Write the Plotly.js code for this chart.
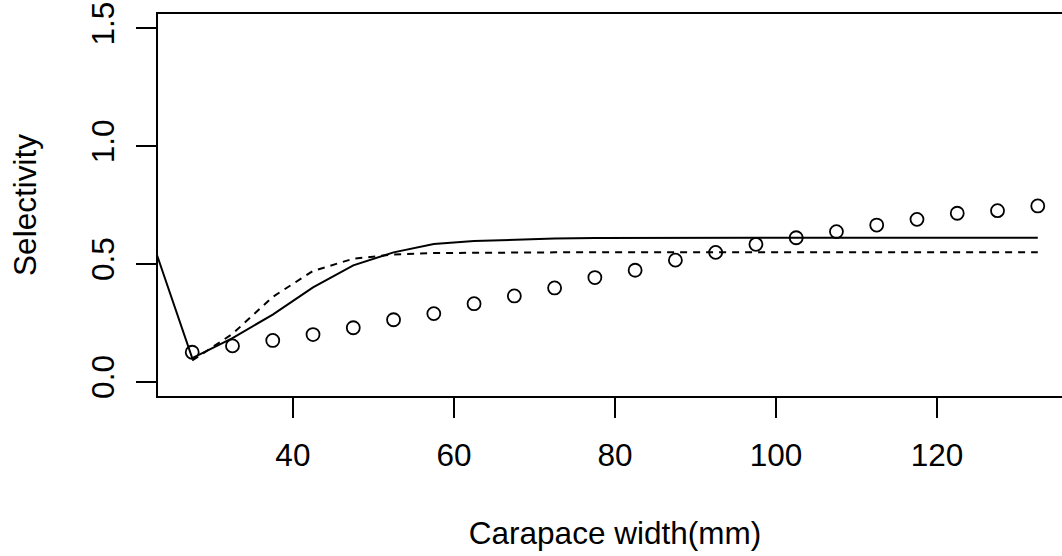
<!DOCTYPE html>
<html>
<head>
<meta charset="utf-8">
<script src="https://cdn.plot.ly/plotly-3.0.1.min.js"></script>
<style>
html,body{margin:0;padding:0;overflow:hidden;background:#fff;}
#chart{width:1072px;height:556px;}
</style>
</head>
<body>
<div id="chart"></div>
<script>
// Carapace width classes (mm)
var widthObs = [27.5, 32.5, 37.5, 42.5, 47.5, 52.5, 57.5, 62.5, 67.5, 72.5, 77.5,
                82.5, 87.5, 92.5, 97.5, 102.5, 107.5, 112.5, 117.5, 122.5, 127.5, 132.5];
// Observed selectivity (circles)
var selObs = [0.125, 0.152, 0.175, 0.200, 0.229, 0.263, 0.289, 0.331, 0.364, 0.398, 0.442,
              0.473, 0.516, 0.549, 0.583, 0.611, 0.637, 0.665, 0.689, 0.715, 0.726, 0.746];

// Solid line (model 1)
var widthSolid = [22.5, 27.5, 32.5, 37.5, 42.5, 47.5, 52.5, 57.5, 62.5, 67.5, 72.5, 77.5,
                  82.5, 87.5, 92.5, 97.5, 102.5, 107.5, 112.5, 117.5, 122.5, 127.5, 132.5];
var selSolid = [0.60, 0.100, 0.185, 0.285, 0.400, 0.494, 0.549, 0.584, 0.597, 0.603, 0.608, 0.610,
                0.611, 0.611, 0.611, 0.611, 0.611, 0.611, 0.611, 0.611, 0.611, 0.611, 0.611];

// Dashed line (model 2)
var widthDash = [27.5, 32.5, 37.5, 42.5, 47.5, 52.5, 57.5, 62.5, 67.5, 72.5, 77.5,
                 82.5, 87.5, 92.5, 97.5, 102.5, 107.5, 112.5, 117.5, 122.5, 127.5, 132.5];
var selDash = [0.090, 0.203, 0.360, 0.470, 0.522, 0.540, 0.546, 0.548, 0.549, 0.549, 0.549,
               0.549, 0.549, 0.549, 0.549, 0.549, 0.549, 0.549, 0.549, 0.549, 0.549, 0.549];

var xTicks = [40, 60, 80, 100, 120];
var yTicks = [0.0, 0.5, 1.0, 1.5];
var yTickText = ['0.0', '0.5', '1.0', '1.5'];

var FONT = 'Liberation Sans, Arial, Helvetica, sans-serif';
var FS = 31.5;

var traces = [
  {x: widthSolid, y: selSolid, mode: 'lines', type: 'scatter',
   line: {color: '#000', width: 2}, hoverinfo: 'skip'},
  {x: widthDash, y: selDash, mode: 'lines', type: 'scatter',
   line: {color: '#000', width: 2, dash: '7px,6px'}, hoverinfo: 'skip'},
  {x: widthObs, y: selObs, mode: 'markers', type: 'scatter',
   marker: {symbol: 'circle-open', size: 13, color: '#000', line: {width: 1.8, color: '#000'}},
   cliponaxis: true, hoverinfo: 'skip'}
];

var layout = {
  width: 1072, height: 556,
  margin: {l: 158, r: 0, t: 14, b: 160},
  paper_bgcolor: '#fff', plot_bgcolor: '#fff',
  showlegend: false,
  font: {family: FONT, size: FS, color: '#000'},
  xaxis: {
    range: [23.25, 136.75], autorange: false,
    tickmode: 'array', tickvals: xTicks, ticktext: xTicks.map(String),
    ticks: 'outside', ticklen: 20, tickwidth: 1.8, tickcolor: '#000',
    showline: true, linecolor: '#000', linewidth: 1.8, mirror: true,
    showgrid: false, zeroline: false,
    ticklabelstandoff: 10,
    tickfont: {family: FONT, size: FS, color: '#000'},
    title: {text: 'Carapace width(mm)', font: {family: FONT, size: FS, color: '#000'}, standoff: 50},
    automargin: false
  },
  yaxis: {
    range: [-0.0607, 1.5607], autorange: false,
    tickmode: 'array', tickvals: yTicks, ticktext: yTickText,
    tickangle: -90,
    ticks: 'outside', ticklen: 20, tickwidth: 1.8, tickcolor: '#000',
    showline: true, linecolor: '#000', linewidth: 1.8, mirror: true,
    showgrid: false, zeroline: false,
    ticklabelstandoff: 10,
    tickfont: {family: FONT, size: FS, color: '#000'},
    title: {text: 'Selectivity', font: {family: FONT, size: FS, color: '#000'}, standoff: 38},
    automargin: false
  }
};

Plotly.newPlot('chart', traces, layout, {staticPlot: true, displayModeBar: false});
</script>
</body>
</html>
